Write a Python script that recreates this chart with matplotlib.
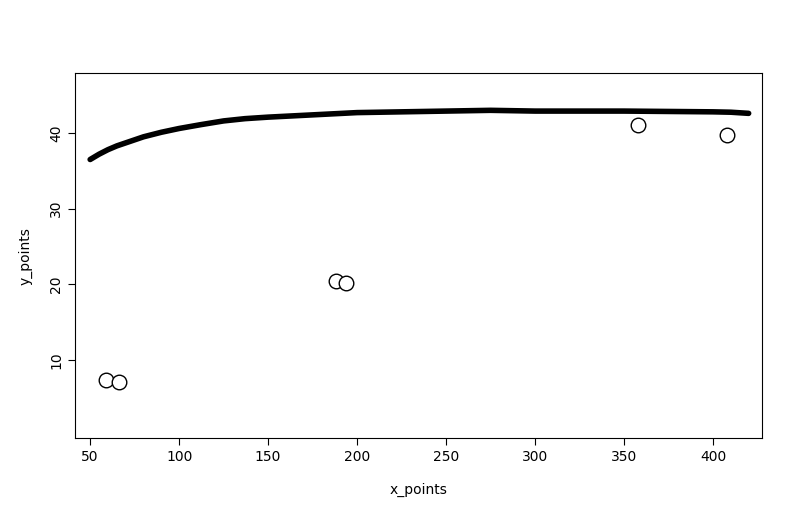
import matplotlib
matplotlib.use("Agg")
from matplotlib import pyplot as plt

x_points = [59, 66, 188, 194, 358, 408]
y_points = [7.3, 7.1, 20.4, 20.2, 41.0, 39.8]

curve_x = [50, 55, 60, 65, 70, 75, 80, 90, 100, 112, 125, 137, 150, 175, 200, 225, 250, 275, 300, 325, 350, 375, 400, 410, 420]
curve_y = [36.5, 37.2, 37.8, 38.3, 38.7, 39.1, 39.5, 40.1, 40.6, 41.1, 41.6, 41.9, 42.1, 42.4, 42.7, 42.8, 42.9, 43.0, 42.9, 42.9, 42.9, 42.85, 42.8, 42.75, 42.6]

fig = plt.figure(figsize=(8, 5.27), dpi=100)
ax = fig.add_axes([0.094, 0.169, 0.8585, 0.692])

ax.plot(curve_x, curve_y, color="black", lw=4, solid_capstyle="round")
ax.scatter(x_points, y_points, s=110, facecolors="white", edgecolors="black", linewidths=1, zorder=3)

ax.set_xlim(41.6, 427.5)
ax.set_ylim(-0.3, 47.9)
ax.set_xticks(range(50, 401, 50))
ax.set_yticks([10, 20, 30, 40])
ax.tick_params(labelsize=10, length=5)
for lbl in ax.get_yticklabels():
    lbl.set_rotation(90)
    lbl.set_va("center")
ax.set_xlabel("x_points", fontsize=10, labelpad=14)
ax.set_ylabel("y_points", fontsize=10, labelpad=12)

fig.savefig("out.png", dpi=100)
